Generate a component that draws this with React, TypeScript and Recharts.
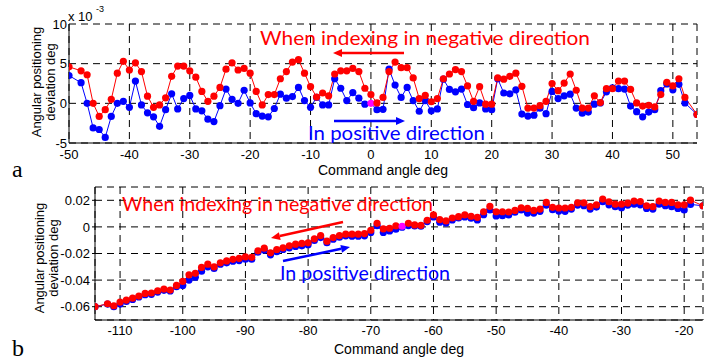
import React from 'react';
import { LineChart, Line, XAxis, YAxis, CartesianGrid } from 'recharts';

// (a) command angle, deg, and deviation in units of 1e-3 deg
const topAngles = [
  -50, -48, -47, -46, -45, -44, -43, -42, -41, -40, -39, -38, -37, -36, -35, -34, -33, -32, -31, -30,
  -29, -28, -27, -26, -25, -24, -23, -22, -21, -20, -19, -18, -17, -16, -15, -14, -13, -12, -11, -10,
  -9, -8, -7, -6, -5, -4, -3, -2, -1, 0, 1, 2, 3, 4, 5, 6, 7, 8, 9, 10,
  11, 12, 13, 14, 15, 16, 17, 18, 19, 20, 21, 22, 23, 24, 25, 26, 27, 28, 29, 30,
  31, 32, 33, 34, 35, 36, 37, 38, 39, 40, 41, 42, 43, 44, 45, 46, 47, 48, 49, 50,
  51, 52, 54,
];
const topNegative = [
  4.6, 4.1, 3.6, 0.0, -1.65, -0.8, 0.5, 3.8, 5.3, 4.2, 5.1, 4.0, 0.9, -0.5, -0.2, 0.7, 3.4, 4.7, 4.7, 4.1,
  3.3, 1.5, 0.25, 0.9, 2.0, 4.3, 5.1, 4.2, 4.4, 3.8, 1.5, -0.2, 1.1, 1.1, 3.1, 4.0, 5.2, 5.5, 3.8, 2.1,
  0.8, 1.3, 0.95, 3.7, 4.1, 4.1, 4.4, 4.0, 1.9, 1.1, 0.05, 0.75, 4.0, 5.2, 4.5, 4.5, 3.2, 0.6, 1.0, 0.2,
  0.6, 3.1, 3.7, 4.25, 4.0, 2.2, 0.25, 2.1, -0.1, -0.1, 3.2, 3.05, 3.4, 3.8, 2.15, -0.6, -0.6, -0.3, 0.25, 2.5,
  1.6, 2.55, 3.7, 1.65, -0.6, -0.6, 0.95, 0.1, 1.85, 1.85, 2.8, 2.8, 1.75, 0.05, -0.35, -0.25, -0.45, 1.1, 2.65, 2.2,
  3.1, 0.75, -1.4,
];
const topPositive = [
  3.5, 2.6, 0.0, -3.1, -3.3, -4.3, -1.65, 0.0, 0.25, -0.5, 2.8, -0.2, -1.2, -1.7, -2.9, -0.8, 1.2, -0.7, 0.6, 1.0,
  -0.7, -0.95, -2.0, -2.3, -0.3, 1.8, 0.5, 0.0, 1.65, 0.05, -1.3, -1.6, -1.7, -0.65, 1.15, 0.65, 0.85, 2.0, 0.35, -0.5,
  0.75, -0.2, -0.2, 3.1, 1.9, 0.35, 1.35, 0.65, -0.1, 0.0, -0.8, -0.75, 4.3, 2.3, 0.75, 2.0, 0.35, -1.0, 0.35, -0.95,
  -0.7, 3.05, 1.75, 1.45, 1.8, -0.15, -0.55, 0.05, -0.7, -0.8, 3.1, 1.3, 1.2, 1.7, -1.35, -1.6, -1.5, -0.6, -1.3, 1.5,
  0.6, 0.95, 1.15, -0.6, -1.25, -1.1, -0.1, 0.05, 1.45, 1.95, 1.85, 1.8, -0.35, -1.05, -1.7, -1.1, -0.8, 1.6, 2.45, 1.7,
  2.4, 0.05, -1.4,
];
const topStartAngle = 0;
const topXTicks = [-50, -40, -30, -20, -10, 0, 10, 20, 30, 40, 50];
const topYTicks = [-5, 0, 5, 10];

// (b) command angle, deg, and deviation, deg
const bottomAngles = [
  -114, -112, -111, -110, -109, -108, -107, -106, -105, -104, -103, -102, -101, -100, -99, -98, -97, -96, -95, -94,
  -93, -92, -91, -90, -89, -88, -87, -86, -85, -84, -83, -82, -81, -80, -79, -78, -77, -76, -75, -74,
  -73, -72, -71, -70, -69, -68, -67, -66, -65, -64, -63, -62, -61, -60, -59, -58, -57, -56, -55, -54,
  -53, -52, -51, -50, -49, -48, -47, -46, -45, -44, -43, -42, -41, -40, -39, -38, -37, -36, -35, -34,
  -33, -32, -31, -30, -29, -28, -27, -26, -25, -24, -23, -22, -21, -20, -19, -17,
];
const bottomNegative = [
  -0.06, -0.0578, -0.0593, -0.0565, -0.055, -0.0536, -0.052, -0.05, -0.0497, -0.048, -0.0467, -0.0475, -0.044, -0.041, -0.036, -0.0349, -0.0305, -0.028, -0.03, -0.027,
  -0.0256, -0.0244, -0.0236, -0.0226, -0.0229, -0.018, -0.016, -0.0195, -0.017, -0.0157, -0.0142, -0.013, -0.0124, -0.012, -0.009, -0.0065, -0.0107, -0.008, -0.0065, -0.0055,
  -0.0055, -0.0055, -0.005, -0.0025, 0.0027, -0.0015, -0.001, 0.0007, 0.0005, 0.0027, 0.0015, 0.0012, 0.005, 0.009, 0.0055, 0.0045, 0.0067, 0.0077, 0.009, 0.008,
  0.0072, 0.0114, 0.0154, 0.0114, 0.0114, 0.0112, 0.0124, 0.0144, 0.0139, 0.0124, 0.0134, 0.0184, 0.0147, 0.0142, 0.0142, 0.0147, 0.0181, 0.0181, 0.0152, 0.0166,
  0.0209, 0.0189, 0.0171, 0.0171, 0.0179, 0.0194, 0.0191, 0.0159, 0.0152, 0.0194, 0.0184, 0.0184, 0.0166, 0.0166, 0.0201, 0.0159,
];
const bottomPositive = [
  -0.06, -0.058, -0.06, -0.058, -0.056, -0.0545, -0.0527, -0.051, -0.0507, -0.049, -0.0477, -0.0482, -0.045, -0.044, -0.04, -0.0378, -0.0333, -0.03, -0.0312, -0.028,
  -0.027, -0.0258, -0.0253, -0.0243, -0.0243, -0.019, -0.0174, -0.021, -0.0186, -0.0169, -0.0157, -0.0147, -0.0142, -0.0134, -0.0102, -0.008, -0.0119, -0.0092, -0.0077, -0.0067,
  -0.007, -0.007, -0.0067, -0.0042, 0.001, -0.0042, -0.003, -0.0017, -0.0002, 0.001, 0.0007, 0.0005, 0.004, 0.0075, 0.0035, 0.003, 0.0052, 0.0067, 0.0075, 0.0065,
  0.0052, 0.0092, 0.0127, 0.0082, 0.0084, 0.009, 0.011, 0.0127, 0.0104, 0.0104, 0.0117, 0.0164, 0.0129, 0.0119, 0.0117, 0.0134, 0.0164, 0.0159, 0.0134, 0.0149,
  0.0189, 0.0166, 0.0152, 0.0144, 0.0164, 0.0171, 0.0166, 0.0139, 0.0134, 0.0171, 0.0159, 0.0152, 0.0139, 0.0127, 0.0169, 0.0159,
];
const bottomStartAngle = -65;
const bottomXTicks = [-110, -100, -90, -80, -70, -60, -50, -40, -30, -20];
const bottomYTicks = [-0.06, -0.04, -0.02, 0, 0.02];

const RED = '#ff0000';
const BLUE = '#0000ff';
const MAGENTA = '#ff00ff';
const SANS = '"Liberation Sans", Arial, sans-serif';
const NOTE = 'Lato, "Open Sans", sans-serif';

const topData = topAngles.map((a, i) => ({ angle: a, neg: topNegative[i], pos: topPositive[i] }));
const bottomData = bottomAngles.map((a, i) => ({ angle: a, neg: bottomNegative[i], pos: bottomPositive[i] }));

// dot renderer; the starting point of the run is drawn in magenta
const makeDot = (color: string, start: number | null) => (props: any) => {
  const { cx, cy, payload, index } = props;
  const fill = start !== null && payload.angle === start ? MAGENTA : color;
  return <circle key={`d-${index}`} cx={cx} cy={cy} r={3.6} fill={fill} stroke="none" />;
};

const tickStyle = { fill: '#000', fontSize: 13, fontFamily: SANS };

const Arrow = ({ x1, y1, x2, y2, color }: { x1: number; y1: number; x2: number; y2: number; color: string }) => {
  // x1,y1 = tail, x2,y2 = head
  const ang = Math.atan2(y2 - y1, x2 - x1);
  const len = 9;
  const w = 4;
  const bx = x2 - len * Math.cos(ang);
  const by = y2 - len * Math.sin(ang);
  const px = -Math.sin(ang) * w;
  const py = Math.cos(ang) * w;
  return (
    <g>
      <line x1={x1} y1={y1} x2={bx} y2={by} stroke={color} strokeWidth={2.5} />
      <polygon points={`${x2},${y2} ${bx + px},${by + py} ${bx - px},${by - py}`} fill={color} />
    </g>
  );
};

const App: React.FC = () => {
  return (
    <div style={{ position: 'absolute', left: 0, top: 0, width: 718, height: 361, background: '#fff' }}>
      <div style={{ position: 'absolute', left: 0, top: 0 }}>
        <LineChart width={718} height={180} data={topData} margin={{ top: 24, right: 21, bottom: 7, left: 29 }}>
          <CartesianGrid stroke="#000" strokeDasharray="7 5" strokeWidth={1} />
          <XAxis dataKey="angle" type="number" domain={[-50, 54]} ticks={topXTicks} allowDataOverflow
            tickLine={false} tickSize={0} tickMargin={7} height={30} axisLine={{ stroke: '#000' }} tick={tickStyle} />
          <XAxis xAxisId="t" orientation="top" dataKey="angle" type="number" domain={[-50, 54]} ticks={topXTicks}
            tick={false} tickLine={false} height={0} axisLine={{ stroke: '#000' }} />
          <YAxis domain={[-5, 10]} ticks={topYTicks} allowDataOverflow width={40} tickLine={false} tickSize={0}
            tickMargin={2} axisLine={{ stroke: '#000' }} tick={tickStyle} />
          <YAxis yAxisId="r" orientation="right" domain={[-5, 10]} tick={false} tickLine={false} width={0}
            axisLine={{ stroke: '#000' }} />
          <Line dataKey="pos" stroke={BLUE} strokeWidth={1} dot={makeDot(BLUE, topStartAngle)} isAnimationActive={false} />
          <Line dataKey="neg" stroke={RED} strokeWidth={1} dot={makeDot(RED, null)} isAnimationActive={false} />
        </LineChart>
      </div>
      <div style={{ position: 'absolute', left: 0, top: 180 }}>
        <LineChart width={718} height={181} data={bottomData} margin={{ top: 7, right: 15, bottom: 11, left: 55 }}>
          <CartesianGrid stroke="#000" strokeDasharray="7 5" strokeWidth={1} />
          <XAxis dataKey="angle" type="number" domain={[-114, -17]} ticks={bottomXTicks} allowDataOverflow
            tickLine={false} tickSize={0} tickMargin={6} height={30} axisLine={{ stroke: '#000' }} tick={tickStyle} />
          <XAxis xAxisId="t" orientation="top" dataKey="angle" type="number" domain={[-114, -17]} ticks={bottomXTicks}
            tick={false} tickLine={false} height={0} axisLine={{ stroke: '#000' }} />
          <YAxis domain={[-0.07, 0.03]} ticks={bottomYTicks} allowDataOverflow width={40} tickSize={3}
            tickLine={{ stroke: '#000' }} tickMargin={2} axisLine={{ stroke: '#000' }} tick={tickStyle} />
          <YAxis yAxisId="r" orientation="right" domain={[-0.07, 0.03]} tick={false} tickLine={false} width={0}
            axisLine={{ stroke: '#000' }} />
          <Line dataKey="pos" stroke={BLUE} strokeWidth={1} dot={makeDot(BLUE, null)} isAnimationActive={false} />
          <Line dataKey="neg" stroke={RED} strokeWidth={1} dot={makeDot(RED, bottomStartAngle)} isAnimationActive={false} />
        </LineChart>
      </div>

      <svg width={718} height={361} style={{ position: 'absolute', left: 0, top: 0, pointerEvents: 'none' }}>
        {/* panel a */}
        <text x={68} y={21} fontSize={13} fontFamily={SANS} fill="#000">x 10</text>
        <text x={96} y={12} fontSize={9} fontFamily={SANS} fill="#000">-3</text>
        <g fontSize={13} fontFamily={SANS} fill="#000" textAnchor="middle">
          <text transform="translate(41,82) rotate(-90)">Angular positioning</text>
          <text transform="translate(55,82) rotate(-90)">deviation deg</text>
          <text x={383} y={175} fontSize={14}>Command angle deg</text>
        </g>
        <text x={12} y={177} fontSize={24} fontFamily='"Liberation Serif", "DejaVu Serif", serif' fill="#000">a</text>
        <text x={260} y={45} fontSize={20} fontFamily={NOTE} fill={RED} textLength={330} lengthAdjust="spacingAndGlyphs">
          When indexing in negative direction
        </text>
        <Arrow x1={404} y1={53} x2={333} y2={53} color={RED} />
        <Arrow x1={334} y1={121} x2={405} y2={121} color={BLUE} />
        <text x={308} y={140} fontSize={20} fontFamily={NOTE} fill={BLUE} textLength={177} lengthAdjust="spacingAndGlyphs">
          In positive direction
        </text>

        {/* panel b */}
        <g fontSize={13} fontFamily={SANS} fill="#000" textAnchor="middle">
          <text transform="translate(44,258) rotate(-90)">Angular positioning</text>
          <text transform="translate(58,258) rotate(-90)">deviation deg</text>
          <text x={399} y={354} fontSize={14}>Command angle deg</text>
        </g>
        <text x={12} y={356} fontSize={24} fontFamily='"Liberation Serif", "DejaVu Serif", serif' fill="#000">b</text>
        <text x={122} y={211} fontSize={18.5} fontFamily={NOTE} fill={RED} textLength={311} lengthAdjust="spacingAndGlyphs">
          When indexing in negative direction
        </text>
        <Arrow x1={343} y1={222} x2={271} y2={238} color={RED} />
        <Arrow x1={283} y1={261} x2={350} y2={247} color={BLUE} />
        <text x={280} y={280} fontSize={18.5} fontFamily={NOTE} fill={BLUE} textLength={170} lengthAdjust="spacingAndGlyphs">
          In positive direction
        </text>
      </svg>
    </div>
  );
};

export default App;
